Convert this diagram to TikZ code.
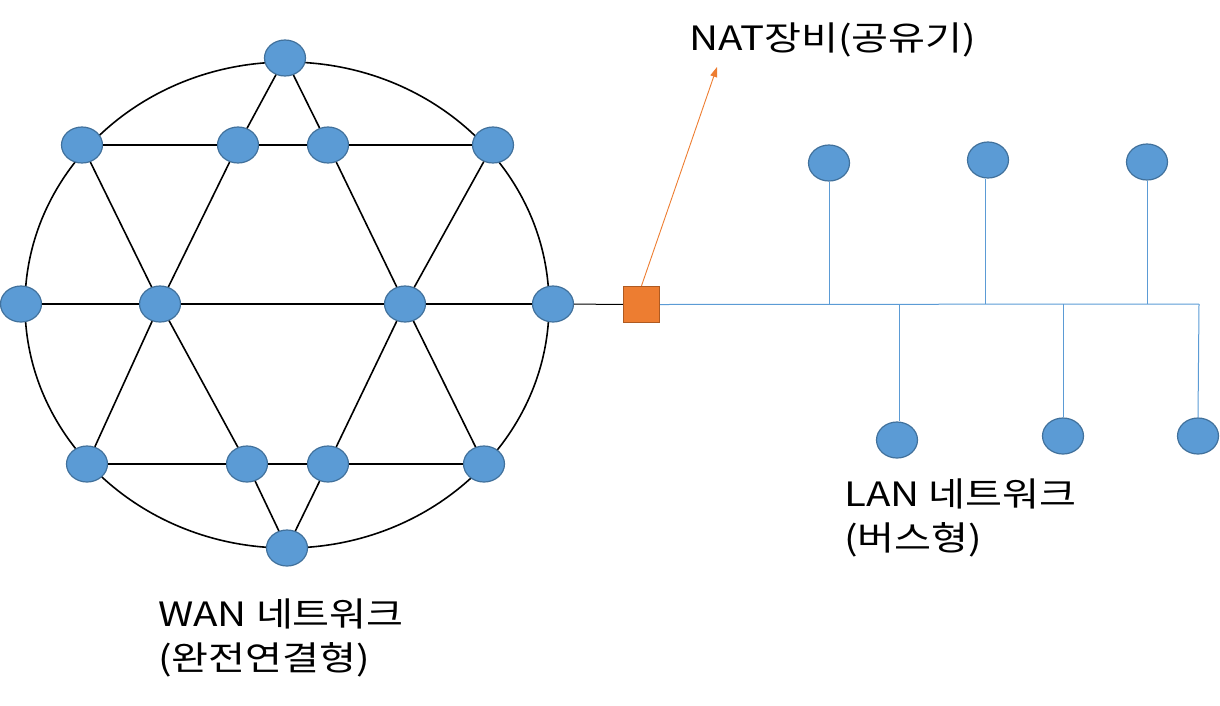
\documentclass[tikz,border=0pt]{standalone}
\usepackage{fontspec}
\setmainfont{Noto Sans CJK KR}
\usetikzlibrary{shapes.geometric,arrows.meta}
\definecolor{nodefill}{HTML}{5B9BD5}
\definecolor{nodeedge}{HTML}{41719C}
\definecolor{natfill}{HTML}{ED7D31}
\definecolor{natedge}{HTML}{AE5A21}
\newcommand{\wide}[1]{\scalebox{1.2}[1]{#1}}
\tikzset{
  host/.style={ellipse, draw=nodeedge, fill=nodefill, line width=1.2pt, minimum width=41pt, minimum height=36pt, inner sep=0pt},
  wan/.style={draw=black, line width=1.6pt},
  bus/.style={draw=nodefill, line width=1pt},
  lbl/.style={anchor=base west, inner sep=0pt, font=\fontsize{33.5}{40}\selectfont},
}
\begin{document}
\begin{tikzpicture}[x=1pt,y=-1pt]
\useasboundingbox (0,0) rectangle (1220,705);
% ring
\draw[wan] (287,305) ellipse [x radius=262pt, y radius=243pt];
% WAN nodes
\node[host] (T)  at (285,58) {};
\node[host] (A1) at (82,145) {};
\node[host] (A2) at (238,145) {};
\node[host] (A3) at (328,145) {};
\node[host] (A4) at (493,145) {};
\node[host] (B1) at (21,304) {};
\node[host] (B2) at (160,304) {};
\node[host] (B3) at (405,304) {};
\node[host] (B4) at (553,304) {};
\node[host] (C1) at (87,464) {};
\node[host] (C2) at (247,464) {};
\node[host] (C3) at (328,464) {};
\node[host] (C4) at (484,464) {};
\node[host] (D)  at (287,548) {};
% WAN links
\draw[wan] (T) -- (A2);
\draw[wan] (T) -- (A3);
\draw[wan] (A1) -- (A2);
\draw[wan] (A2) -- (A3);
\draw[wan] (A3) -- (A4);
\draw[wan] (A1) -- (B2);
\draw[wan] (A2) -- (B2);
\draw[wan] (A3) -- (B3);
\draw[wan] (A4) -- (B3);
\draw[wan, line width=1.2pt] (B1) -- (B2);
\draw[wan, line width=1.2pt] (B2) -- (B3);
\draw[wan, line width=1.2pt] (B3) -- (B4);
\draw[wan] (B2) -- (C1);
\draw[wan] (B2) -- (C2);
\draw[wan] (B3) -- (C3);
\draw[wan] (B3) -- (C4);
\draw[wan] (C1) -- (C2);
\draw[wan] (C2) -- (C3);
\draw[wan] (C3) -- (C4);
\draw[wan] (C2) -- (D);
\draw[wan] (C3) -- (D);
% NAT device
\node[draw=natedge, fill=natfill, line width=1.4pt, minimum width=36pt, minimum height=36pt, inner sep=0pt] (nat) at (641.5,304.5) {};
\draw[black, line width=1pt] (B4) -- (nat);
% LAN hosts
\node[host] (L1) at (829,163) {};
\node[host] (L2) at (988,160) {};
\node[host] (L3) at (1147,162) {};
\node[host] (L4) at (897,440) {};
\node[host] (L5) at (1063,436) {};
\node[host] (L6) at (1198,436) {};
\coordinate (busend) at (1199,304);
\coordinate (j1) at (829,304);
\coordinate (j2) at (985,304);
\coordinate (j3) at (1147,304);
\coordinate (j4) at (899,304);
\coordinate (j5) at (1063,304);
\draw[bus] (nat.east) -- (busend);
\draw[bus] (L1.south) -- (j1);
\draw[bus] (985,160 |- L2.south) -- (j2);
\draw[bus] (L3.south) -- (j3);
\draw[bus] (j4) -- (899,440 |- L4.north);
\draw[bus] (j5) -- (L5.north);
\draw[bus] (busend) -- (L6.north);
% NAT pointer
\coordinate (tip) at (717,67);
\draw[natfill, line width=0.9pt, -{Triangle[length=10pt,width=7pt]}] (nat.north) -- (tip);
% labels
\node[lbl] (natlbl) at (689,50) {\wide{NAT장비(공유기)}};
\node[lbl] (lan1) at (844,506) {\wide{LAN 네트워크}};
\node[lbl] (lan2) at (844,550) {\wide{(버스형)}};
\node[lbl] (wan1) at (158,626) {\wide{WAN 네트워크}};
\node[lbl] (wan2) at (158,670) {\wide{(완전연결형)}};
\end{tikzpicture}
\end{document}
